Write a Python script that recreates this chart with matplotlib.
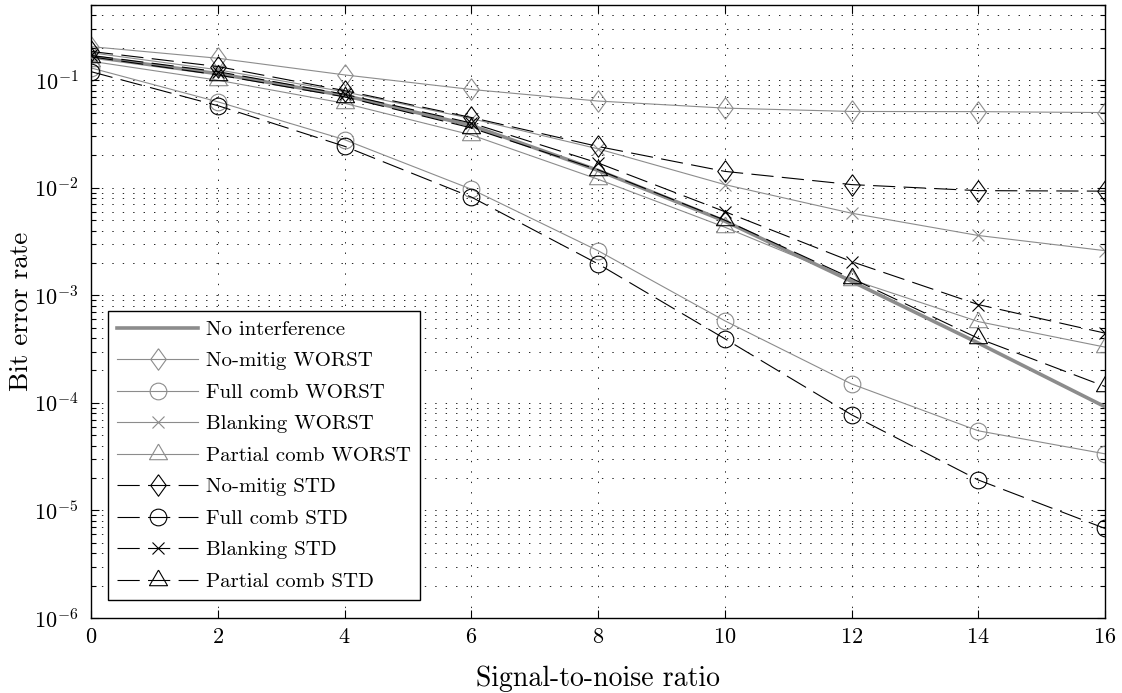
import matplotlib
matplotlib.use("Agg")
import matplotlib.pyplot as plt
import numpy as np
from matplotlib.ticker import LogLocator, LogFormatterMathtext, NullFormatter, FixedLocator

plt.rcParams['font.family'] = 'serif'
plt.rcParams['font.serif'] = ['cmr10', 'DejaVu Serif']
plt.rcParams['mathtext.fontset'] = 'cm'
plt.rcParams['axes.formatter.use_mathtext'] = True
plt.rcParams['lines.scale_dashes'] = False

snr = [0, 2, 4, 6, 8, 10, 12, 14, 16]

no_interference = [0.165, 0.115, 0.072, 0.038, 0.0145, 0.0049, 0.00135, 0.00036, 9.2e-5]
nomitig_worst = [0.205, 0.16, 0.112, 0.082, 0.064, 0.055, 0.0512, 0.051, 0.050]
fullcomb_worst = [0.13, 0.063, 0.028, 0.0097, 0.0026, 5.8e-4, 1.5e-4, 5.5e-5, 3.36e-5]
blanking_worst = [0.18, 0.125, 0.078, 0.044, 0.023, 0.0107, 0.0058, 0.0036, 0.0026]
partial_worst = [0.15, 0.10, 0.061, 0.031, 0.012, 0.0043, 0.0014, 5.7e-4, 3.3e-4]
nomitig_std = [0.185, 0.134, 0.08, 0.045, 0.0242, 0.0142, 0.0107, 0.0094, 0.0093]
fullcomb_std = [0.12, 0.058, 0.0243, 0.0082, 0.00196, 3.95e-4, 7.76e-5, 1.92e-5, 6.8e-6]
blanking_std = [0.17, 0.12, 0.074, 0.040, 0.017, 0.006, 0.00206, 8.2e-4, 4.45e-4]
partial_std = [0.165, 0.112, 0.070, 0.036, 0.0147, 0.005, 0.00144, 3.98e-4, 1.42e-4]

labels = ["No interference", "No-mitig WORST", "Full comb WORST", "Blanking WORST",
          "Partial comb WORST", "No-mitig STD", "Full comb STD", "Blanking STD",
          "Partial comb STD"]
xticks = [0, 2, 4, 6, 8, 10, 12, 14, 16]

GRAY = '#8c8c8c'
tri = [(0, 1), (-0.866, -0.5), (0.866, -0.5), (0, 1)]
dia = [(0, 1), (0.72, 0), (0, -1), (-0.72, 0), (0, 1)]

fig = plt.figure(figsize=(11.22, 6.93), dpi=100)
ax = fig.add_axes([91/1122, 1-618/693, (1105-91)/1122, (618-5)/693])
ax.set_yscale('log')

ax.plot(snr, no_interference, color=GRAY, lw=2.6, label=labels[0], zorder=3)

mk = dict(markerfacecolor='none', markeredgewidth=0.8)
ax.plot(snr, nomitig_worst, color=GRAY, lw=0.8, marker=dia, ms=15.5, markeredgecolor=GRAY, label=labels[1], **mk)
ax.plot(snr, fullcomb_worst, color=GRAY, lw=0.8, marker='o', ms=12, markeredgecolor=GRAY, label=labels[2], **mk)
ax.plot(snr, blanking_worst, color=GRAY, lw=0.8, marker='x', ms=9, markeredgecolor=GRAY, label=labels[3], **mk)
ax.plot(snr, partial_worst, color=GRAY, lw=0.8, marker=tri, ms=15, markeredgecolor=GRAY, label=labels[4], **mk)

dash = (0, (16, 6))
ax.plot(snr, nomitig_std, color='black', lw=0.8, ls=dash, marker=dia, ms=15.5, markeredgecolor='black', label=labels[5], zorder=4, **mk)
ax.plot(snr, fullcomb_std, color='black', lw=0.8, ls=dash, marker='o', ms=12, markeredgecolor='black', label=labels[6], zorder=4, **mk)
ax.plot(snr, blanking_std, color='black', lw=0.8, ls=dash, marker='x', ms=9, markeredgecolor='black', label=labels[7], zorder=4, **mk)
ax.plot(snr, partial_std, color='black', lw=0.8, ls=dash, marker=tri, ms=15, markeredgecolor='black', label=labels[8], zorder=4, **mk)

ax.set_xlim(0, 16)
ax.set_ylim(1e-6, 0.5)
ax.xaxis.set_major_locator(FixedLocator(xticks))
ax.yaxis.set_major_locator(LogLocator(base=10, numticks=20))
ax.yaxis.set_minor_locator(LogLocator(base=10, subs=np.arange(2, 10), numticks=20))
ax.yaxis.set_major_formatter(LogFormatterMathtext())
ax.yaxis.set_minor_formatter(NullFormatter())

dot = (0, (1, 6.5))
ax.grid(True, which='major', axis='both', color='black', lw=0.6, ls=dot)
ax.grid(True, which='minor', axis='y', color='black', lw=0.6, ls=dot)
ax.set_axisbelow(True)

ax.tick_params(which='both', direction='in', top=True, right=True, labelsize=16, width=0.8)
ax.tick_params(which='major', length=6)
ax.tick_params(which='minor', length=3.5)
ax.tick_params(axis='x', pad=7)
ax.tick_params(axis='y', pad=9)
for s in ax.spines.values():
    s.set_linewidth(1.0)

ax.set_xlabel('Signal-to-noise ratio', fontsize=20, labelpad=13)
ax.set_ylabel('Bit error rate', fontsize=19.5, labelpad=1)

leg = ax.legend(loc='lower left', bbox_to_anchor=(0.0168, 0.029), borderaxespad=0,
                fontsize=15, numpoints=1, handlelength=3.85, fancybox=False,
                edgecolor='black', framealpha=1, labelspacing=0.62, borderpad=0.45,
                handletextpad=0.4)
leg.get_frame().set_linewidth(1.0)

fig.savefig('out.png', dpi=100)
